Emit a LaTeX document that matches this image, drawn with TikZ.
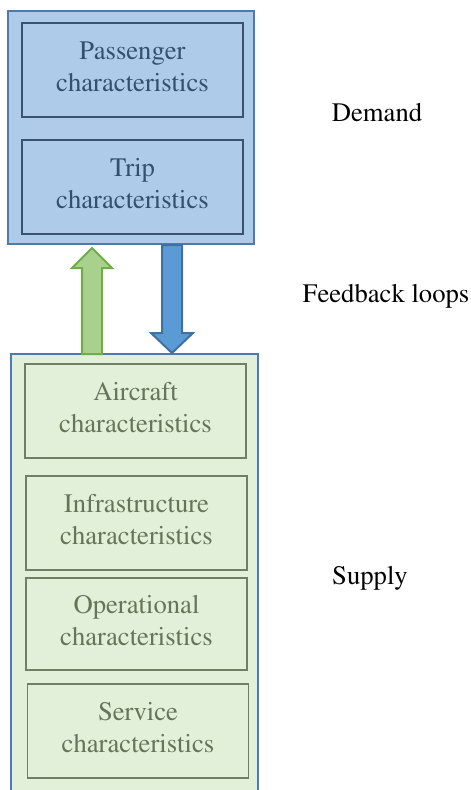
\documentclass[tikz,border=0pt]{standalone}
\usepackage[T1]{fontenc}
\usepackage{times}

\definecolor{demandFill}{HTML}{AECBE9}
\definecolor{frameBlue}{HTML}{4E7BAF}
\definecolor{demandLine}{HTML}{3A5370}
\definecolor{demandText}{HTML}{34506F}
\definecolor{supplyFill}{HTML}{E2EFD9}
\definecolor{supplyLine}{HTML}{6F7F63}
\definecolor{supplyText}{HTML}{667559}
\definecolor{upFill}{HTML}{A9D18E}
\definecolor{upLine}{HTML}{70AD47}
\definecolor{downFill}{HTML}{5B9BD5}
\definecolor{downLine}{HTML}{41719C}

\tikzset{every picture/.style={line width=0.75pt}}
\tikzset{
  charbox/.style={draw, line width=0.9pt, inner sep=0pt, align=center,
    minimum width=165.75pt, minimum height=70.5pt, text depth=5.25pt,
    font=\fontsize{20}{24}\selectfont},
  demandbox/.style={charbox, draw=demandLine, text=demandText},
  supplybox/.style={charbox, draw=supplyLine, text=supplyText},
  sidelabel/.style={font=\fontsize{20}{24}\selectfont}
}

\begin{document}
\begin{tikzpicture}[x=0.75pt,y=0.75pt,yscale=-1,xscale=1]
	\useasboundingbox (0,0) rectangle (471,790);

	%Shape: Rectangle
	\draw [draw=frameBlue, fill=demandFill, line width=1.5]  (8,11) rectangle (254,244) ;
	%Shape: Rectangle (open at the bottom edge)
	\draw [draw=frameBlue, fill=supplyFill, line width=1.5]  (11,792) -- (11,354) -- (258,354) -- (258,792) ;

	%Shape: Up Arrow
	\draw [draw=upLine, fill=upFill, line width=1.5]  (82,354) -- (82,268) -- (72,268) -- (92,248) -- (112,268) -- (102,268) -- (102,354) -- cycle ;
	%Shape: Down Arrow
	\draw [draw=downLine, fill=downFill, line width=1.5]  (162,245) -- (162,333) -- (151,333) -- (172,353) -- (193,333) -- (182,333) -- (182,245) -- cycle ;

	% Demand boxes
	\node [demandbox] (passenger) at (132.5,70) {Passenger\\characteristics};
	\node [demandbox] (trip) at (132.5,187) {Trip\\characteristics};

	% Supply boxes
	\node [supplybox] (aircraft) at (135.5,411) {Aircraft\\characteristics};
	\node [supplybox] (infra) at (136.5,523) {Infrastructure\\characteristics};
	\node [supplybox, minimum height=69pt] (operational) at (136.5,624) {Operational\\characteristics};
	\node [supplybox] (service) at (138,731) {Service\\characteristics};

	% Text Node
	\draw (377,113) node [sidelabel] (demand) {Demand};
	% Text Node
	\draw (386,296) node [sidelabel] (feedback) {Feedback loops};
	% Text Node
	\draw (370,578) node [sidelabel] (supply) {Supply};

\end{tikzpicture}
\end{document}
